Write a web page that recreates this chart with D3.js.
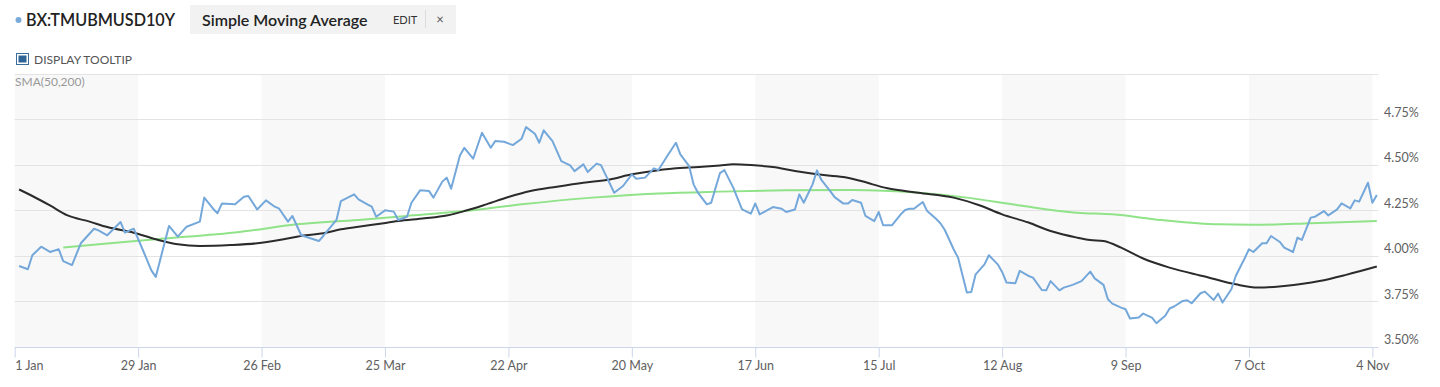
<!DOCTYPE html>
<html>
<head>
<meta charset="utf-8">
<script src="https://cdn.jsdelivr.net/npm/d3@7"></script>
<style>
body { margin: 0; background: #fff; }
svg { display: block; font-family: Lato, "Open Sans", sans-serif; }
</style>
</head>
<body>
<script>
// 10Y yield
var yieldDates = [
	"2024-01-02","2024-01-04","2024-01-05","2024-01-07","2024-01-09","2024-01-11","2024-01-12","2024-01-14","2024-01-16","2024-01-19",
	"2024-01-20","2024-01-22","2024-01-25","2024-01-26","2024-01-28","2024-01-30","2024-02-01","2024-02-02","2024-02-05","2024-02-07",
	"2024-02-09","2024-02-12","2024-02-13","2024-02-15","2024-02-16","2024-02-17","2024-02-20","2024-02-22","2024-02-23","2024-02-25",
	"2024-02-27","2024-02-29","2024-03-01","2024-03-03","2024-03-04","2024-03-06","2024-03-10","2024-03-11","2024-03-14","2024-03-15",
	"2024-03-18","2024-03-19","2024-03-21","2024-03-22","2024-03-23","2024-03-25","2024-03-27","2024-03-28","2024-03-30","2024-03-31",
	"2024-04-02","2024-04-04","2024-04-05","2024-04-07","2024-04-08","2024-04-09","2024-04-11","2024-04-12","2024-04-14","2024-04-16",
	"2024-04-18","2024-04-19","2024-04-21","2024-04-23","2024-04-25","2024-04-26","2024-04-28","2024-04-29","2024-04-30","2024-05-02",
	"2024-05-04","2024-05-06","2024-05-07","2024-05-09","2024-05-10","2024-05-12","2024-05-13","2024-05-14","2024-05-16","2024-05-18",
	"2024-05-20","2024-05-21","2024-05-23","2024-05-25","2024-05-26","2024-05-28","2024-05-30","2024-05-31","2024-06-02","2024-06-03",
	"2024-06-04","2024-06-06","2024-06-07","2024-06-09","2024-06-10","2024-06-12","2024-06-14","2024-06-16","2024-06-17","2024-06-18",
	"2024-06-21","2024-06-23","2024-06-24","2024-06-26","2024-06-27","2024-06-28","2024-06-30","2024-07-01","2024-07-02","2024-07-04",
	"2024-07-05","2024-07-07","2024-07-08","2024-07-09","2024-07-11","2024-07-12","2024-07-14","2024-07-15","2024-07-16","2024-07-18",
	"2024-07-20","2024-07-21","2024-07-22","2024-07-23","2024-07-25","2024-07-26","2024-07-28","2024-07-29","2024-07-30","2024-08-01",
	"2024-08-02","2024-08-04","2024-08-05","2024-08-06","2024-08-08","2024-08-09","2024-08-11","2024-08-12","2024-08-13","2024-08-15",
	"2024-08-16","2024-08-18","2024-08-19","2024-08-21","2024-08-22","2024-08-23","2024-08-25","2024-08-26","2024-08-28","2024-08-30",
	"2024-09-01","2024-09-02","2024-09-04","2024-09-05","2024-09-06","2024-09-08","2024-09-09","2024-09-10","2024-09-12","2024-09-13",
	"2024-09-15","2024-09-16","2024-09-18","2024-09-19","2024-09-20","2024-09-22","2024-09-23","2024-09-24","2024-09-26","2024-09-27",
	"2024-09-29","2024-09-30","2024-10-01","2024-10-03","2024-10-04","2024-10-06","2024-10-07","2024-10-08","2024-10-10","2024-10-11",
	"2024-10-12","2024-10-14","2024-10-15","2024-10-17","2024-10-18","2024-10-19","2024-10-21","2024-10-22","2024-10-24","2024-10-25",
	"2024-10-27","2024-10-28","2024-10-30","2024-10-31","2024-11-01","2024-11-03","2024-11-04","2024-11-05"
];
var yieldValues = [
	3.944,3.926,4.003,4.050,4.021,4.036,3.971,3.949,4.069,4.149,
	4.140,4.113,4.186,4.127,4.149,4.036,3.920,3.884,4.164,4.105,
	4.160,4.188,4.320,4.259,4.234,4.287,4.283,4.325,4.329,4.255,
	4.305,4.270,4.259,4.188,4.219,4.113,4.081,4.109,4.197,4.301,
	4.338,4.310,4.283,4.270,4.215,4.250,4.243,4.197,4.215,4.292,
	4.361,4.356,4.320,4.408,4.430,4.369,4.552,4.594,4.534,4.677,
	4.594,4.631,4.627,4.609,4.644,4.708,4.671,4.622,4.690,4.631,
	4.521,4.497,4.466,4.503,4.461,4.507,4.499,4.448,4.347,4.384,
	4.448,4.424,4.430,4.481,4.471,4.548,4.622,4.558,4.493,4.393,
	4.347,4.283,4.292,4.455,4.471,4.375,4.255,4.232,4.288,4.228,
	4.268,4.259,4.241,4.255,4.338,4.292,4.393,4.470,4.417,4.356,
	4.323,4.287,4.287,4.307,4.292,4.219,4.191,4.241,4.168,4.168,
	4.228,4.252,4.259,4.259,4.296,4.246,4.204,4.179,4.142,4.036,
	3.990,3.798,3.801,3.898,3.953,4.003,3.953,3.911,3.853,3.849,
	3.917,3.889,3.880,3.812,3.810,3.861,3.810,3.825,3.840,3.861,
	3.913,3.876,3.840,3.761,3.737,3.715,3.706,3.655,3.660,3.682,
	3.660,3.629,3.670,3.710,3.721,3.752,3.755,3.739,3.794,3.803,
	3.757,3.792,3.743,3.816,3.889,3.985,4.036,4.021,4.069,4.069,
	4.109,4.076,4.045,4.021,4.100,4.087,4.210,4.215,4.246,4.222,
	4.255,4.288,4.261,4.305,4.298,4.402,4.292,4.334
];

// SMA 50 (black)
var sma50Dates = [
	"2024-01-02","2024-01-05","2024-01-09","2024-01-13","2024-01-18","2024-01-22","2024-01-28","2024-02-02","2024-02-07","2024-02-12",
	"2024-02-19","2024-02-25","2024-03-02","2024-03-07","2024-03-11","2024-03-15","2024-03-19","2024-03-23","2024-03-28","2024-04-03",
	"2024-04-08","2024-04-12","2024-04-17","2024-04-22","2024-04-27","2024-05-03","2024-05-09","2024-05-15","2024-05-20","2024-05-26",
	"2024-06-01","2024-06-05","2024-06-09","2024-06-12","2024-06-16","2024-06-21","2024-06-26","2024-07-01","2024-07-07","2024-07-11",
	"2024-07-17","2024-07-24","2024-08-01","2024-08-07","2024-08-12","2024-08-18","2024-08-23","2024-08-29","2024-09-01","2024-09-04",
	"2024-09-08","2024-09-13","2024-09-19","2024-09-27","2024-10-04","2024-10-09","2024-10-15","2024-10-23","2024-10-29","2024-11-05"
];
var sma50Values = [
	4.365,4.329,4.277,4.222,4.188,4.158,4.127,4.091,4.063,4.054,
	4.059,4.069,4.091,4.113,4.124,4.146,4.160,4.173,4.191,4.206,
	4.222,4.246,4.283,4.323,4.356,4.380,4.402,4.420,4.448,4.471,
	4.484,4.490,4.497,4.503,4.499,4.488,4.466,4.448,4.433,4.411,
	4.371,4.347,4.320,4.277,4.228,4.183,4.136,4.100,4.087,4.081,
	4.045,3.985,3.935,3.886,3.843,3.825,3.834,3.861,3.895,3.941
];

// SMA 200 (green)
var sma200Dates = [
	"2024-01-12","2024-01-22","2024-02-02","2024-02-21","2024-03-05","2024-03-19","2024-03-30","2024-04-12","2024-04-25","2024-05-11",
	"2024-05-26","2024-06-09","2024-06-24","2024-07-09","2024-07-24","2024-08-04","2024-08-16","2024-08-29","2024-09-06","2024-09-17",
	"2024-09-30","2024-10-10","2024-10-21","2024-11-05"
];
var sma200Values = [
	4.045,4.067,4.091,4.131,4.173,4.197,4.219,4.246,4.283,4.320,
	4.343,4.353,4.360,4.362,4.347,4.320,4.277,4.237,4.228,4.197,
	4.173,4.171,4.179,4.191
];

var tickDates = ["2024-01-01","2024-01-29","2024-02-26","2024-03-25","2024-04-22","2024-05-20",
	"2024-06-17","2024-07-15","2024-08-12","2024-09-09","2024-10-07","2024-11-04"];
var yTicks = [3.50, 3.75, 4.00, 4.25, 4.50, 4.75];
var yGrid = [3.75, 4.00, 4.25, 4.50, 4.75, 5.00];

var parse = d3.timeParse("%Y-%m-%d");
var W = 1440, H = 387;
var plot = { left: 14.7, right: 1372.4, end: 1378.5, top: 74, bottom: 346.7 };

var svg = d3.select("body").append("svg")
	.attr("width", W)
	.attr("height", H);

var x = d3.scaleTime()
	.domain([parse(tickDates[0]), parse(tickDates[tickDates.length - 1])])
	.range([plot.left, plot.right]);

var y = d3.scaleLinear()
	.domain([3.5, 5.0])
	.range([plot.bottom, plot.top]);

// header
var head = svg.append("g");
head.append("circle").attr("cx", 18.5).attr("cy", 20).attr("r", 3).attr("fill", "#7aaad8");
head.append("text").attr("x", 26).attr("y", 26)
	.attr("font-size", 16.2).attr("font-weight", 600).attr("fill", "#222")
	.text("BX:TMUBMUSD10Y");
head.append("rect").attr("x", 190).attr("y", 5).attr("width", 266).attr("height", 29).attr("fill", "#f2f2f2");
head.append("text").attr("x", 202).attr("y", 26)
	.attr("font-size", 16).attr("font-weight", 600).attr("fill", "#222")
	.text("Simple Moving Average");
head.append("text").attr("x", 393).attr("y", 24)
	.attr("font-size", 11).attr("fill", "#333")
	.text("EDIT");
head.append("line").attr("x1", 425.5).attr("x2", 425.5).attr("y1", 10).attr("y2", 28).attr("stroke", "#dcdcdc");
head.append("text").attr("x", 440).attr("y", 24).attr("text-anchor", "middle")
	.attr("font-size", 13).attr("fill", "#555")
	.text("×");

head.append("rect").attr("x", 16.5).attr("y", 53.5).attr("width", 12).attr("height", 11)
	.attr("fill", "#fff").attr("stroke", "#3a6d9c");
head.append("rect").attr("x", 18.5).attr("y", 55.5).attr("width", 8).attr("height", 7).attr("fill", "#2f6496");
head.append("text").attr("x", 34).attr("y", 64)
	.attr("font-size", 12).attr("fill", "#555")
	.text("DISPLAY TOOLTIP");

// alternating bands between x ticks
var bands = svg.append("g");
for (var i = 0; i < tickDates.length - 1; i += 2) {
	var x0 = x(parse(tickDates[i])), x1 = x(parse(tickDates[i + 1]));
	bands.append("rect")
		.attr("x", x0).attr("y", plot.top)
		.attr("width", x1 - x0).attr("height", plot.bottom - plot.top)
		.attr("fill", "#f8f8f8");
}

svg.append("text").attr("x", 15).attr("y", 86)
	.attr("font-size", 12).attr("fill", "#999")
	.text("SMA(50,200)");

// horizontal grid
svg.append("g").selectAll("line").data(yGrid).join("line")
	.attr("x1", plot.left).attr("x2", plot.end)
	.attr("y1", d => Math.round(y(d)) + 0.5).attr("y2", d => Math.round(y(d)) + 0.5)
	.attr("stroke", "#e3e3e3");

// y axis labels
var yAxis = d3.axisRight(y).tickValues(yTicks).tickSize(0).tickPadding(0)
	.tickFormat(d => d.toFixed(2) + "%");
svg.append("g")
	.attr("transform", "translate(1384,0)")
	.call(yAxis)
	.call(g => g.select(".domain").remove())
	.call(g => g.selectAll("text")
		.attr("dy", -3).attr("dominant-baseline", "auto")
		.attr("font-family", "Lato, sans-serif").attr("font-size", 12.5).attr("fill", "#606060"));

// x axis
var xAxis = d3.axisBottom(x).tickValues(tickDates.map(parse)).tickSize(10).tickPadding(4)
	.tickFormat(d3.timeFormat("%-d %b"));
svg.append("g")
	.attr("transform", "translate(0," + (Math.round(plot.bottom) + 0.5) + ")")
	.call(xAxis)
	.call(g => g.select(".domain").attr("d", "M" + plot.left + ",0H" + plot.end).attr("stroke", "#ccd6eb"))
	.call(g => g.selectAll(".tick line").attr("stroke", "#ccd6eb"))
	.call(g => g.selectAll("text")
		.attr("font-family", "Lato, sans-serif").attr("font-size", 12.5).attr("fill", "#606060"))
	.call(g => g.select(".tick text").attr("text-anchor", "start").attr("dx", 0));

// lines
var line = d3.line()
	.x(d => x(d[0]))
	.y(d => y(d[1]));

function pairs(dates, values) {
	return dates.map((d, i) => [parse(d), values[i]]);
}

svg.append("path")
	.datum(pairs(sma200Dates, sma200Values))
	.attr("d", line.curve(d3.curveMonotoneX))
	.attr("fill", "none").attr("stroke", "#90e388").attr("stroke-width", 2);

svg.append("path")
	.datum(pairs(sma50Dates, sma50Values))
	.attr("d", line.curve(d3.curveMonotoneX))
	.attr("fill", "none").attr("stroke", "#2b2b2b").attr("stroke-width", 2);

svg.append("path")
	.datum(pairs(yieldDates, yieldValues))
	.attr("d", line.curve(d3.curveLinear))
	.attr("fill", "none").attr("stroke", "#74a8da").attr("stroke-width", 2)
	.attr("stroke-linejoin", "round");
</script>
</body>
</html>
